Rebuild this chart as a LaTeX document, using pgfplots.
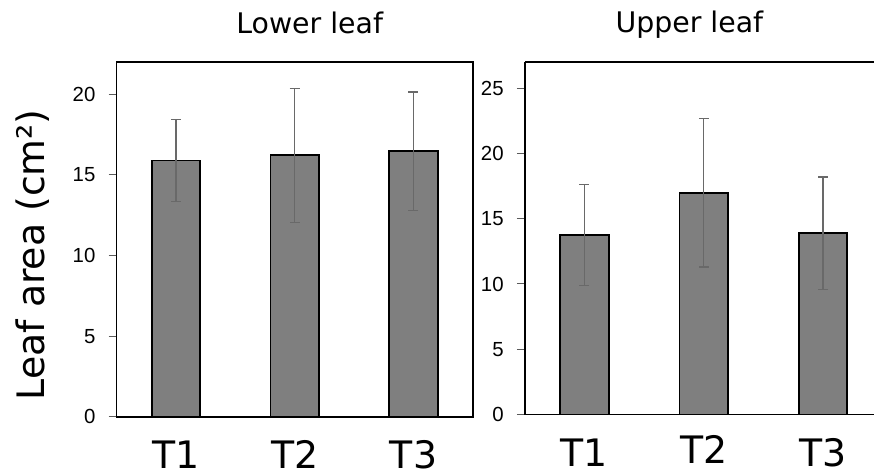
\documentclass[border=0pt]{standalone}
\usepackage{fontspec}
\setmainfont{DejaVu Sans}
\newfontfamily\numfont{Liberation Sans}
\usepackage{pgfplots}
\usepackage{pgfplotstable}
\pgfplotsset{compat=1.18}

\definecolor{barfill}{RGB}{127,127,127}
\definecolor{errgray}{RGB}{105,105,105}
\definecolor{tickgray}{RGB}{90,90,90}

% mean leaf area and its standard deviation per treatment
\pgfplotstableread{
x mean err
0 15.89 2.55
1 16.22 4.15
2 16.47 3.67
}\lowerleaf

\pgfplotstableread{
x mean err
0 13.75 3.89
1 16.99 5.69
2 13.90 4.30
}\upperleaf

\pgfplotsset{
  leafpanel/.style={
    scale only axis,
    xmin=-0.5, ymin=0,
    xtick={0,1,2},
    axis line style={black, line width=1.6bp},
    tick align=outside,
    ytick pos=left,
    major tick length=8bp,
    ytick style={tickgray, line width=1bp},
    xtick style={draw=none},
    /pgf/number format/assume math mode=true,
    yticklabel={\numfont\fontsize{20.5}{21}\selectfont\pgfmathprintnumber{\tick}},
    yticklabel style={inner sep=0pt, xshift=-13bp},
    xticklabel style={font=\fontsize{38}{40}\selectfont, anchor=base, inner sep=0pt, yshift=-44bp},
    title style={font=\fontsize{28.5}{30}\selectfont, anchor=base},
    ybar, bar width=48.5bp,
  },
  leafbars/.style={
    fill=barfill, draw=black, line width=1.8bp,
    error bars/.cd,
      y dir=both, y explicit,
      error bar style={errgray, line width=1.3bp},
      error mark options={rotate=90, errgray, mark size=5bp, line width=1.3bp},
  },
}

\begin{document}
\begin{tikzpicture}
% canvas
\path (0bp,0bp) rectangle (875bp,475bp);

\begin{axis}[
  leafpanel,
  at={(116.7bp,57.7bp)}, anchor=south west,
  width=356.6bp, height=355.3bp,
  xmax=2.5,
  ymax=22, ytick={0,5,10,15,20},
  xticklabels={T1,T2,T3},
  title={Lower leaf},
  title style={at={(rel axis cs:0.542,1.0647)}},
  ylabel={Leaf area (cm²)},
  ylabel style={font=\fontsize{38}{40}\selectfont, at={(rel axis cs:-0.201,0.457)}, anchor=base},
]
\addplot[leafbars] table[x=x, y=mean, y error=err] {\lowerleaf};
\end{axis}

\begin{axis}[
  leafpanel,
  at={(525.3bp,60bp)}, anchor=south west,
  width=349.7bp, height=353bp,
  xmax=2.429,
  axis y line*=left,
  ymax=27, ytick={0,5,10,15,20,25},
  xticklabels={T1,\raisebox{3bp}{T2},T3},
  title={Upper leaf},
  title style={at={(rel axis cs:0.471,1.0652)}},
]
\addplot[leafbars] table[x=x, y=mean, y error=err] {\upperleaf};
\end{axis}
\end{tikzpicture}
\end{document}
